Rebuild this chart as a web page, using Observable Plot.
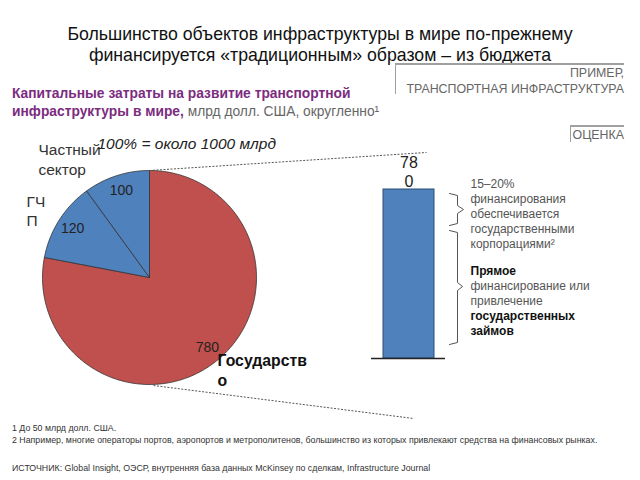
<!DOCTYPE html>
<html>
<head>
<meta charset="utf-8">
<script src="https://cdn.jsdelivr.net/npm/d3@7"></script>
<script src="https://cdn.jsdelivr.net/npm/@observablehq/plot@0.6"></script>
<style>
  html, body { margin: 0; padding: 0; background: #fff; }
  #page { position: relative; width: 640px; height: 480px; overflow: hidden; font-family: "Liberation Sans", Arial, sans-serif; }
  .abs { position: absolute; }
  #title { left: 0; top: 24px; width: 640px; text-align: center; font-size: 17.7px; line-height: 21px; color: #111; }
  #subtitle { left: 12px; top: 85px; font-size: 13.8px; line-height: 17.5px; font-weight: bold; color: #7B2C80; }
  #subtitle .u { font-weight: normal; color: #666; }
  #example { left: 395px; top: 63px; width: 229px; height: 31px; border-top: 2px solid #a0a0a0; border-left: 1.5px solid #a0a0a0; text-align: right; font-size: 12.4px; line-height: 16px; color: #666; box-sizing: border-box; }
  #estimate { left: 570px; top: 125px; width: 54px; height: 17px; border-top: 2px solid #a0a0a0; border-left: 1.5px solid #a0a0a0; text-align: right; font-size: 12.4px; line-height: 16px; color: #666; box-sizing: border-box; }
  #notes { left: 12px; top: 422px; font-size: 8.8px; line-height: 12px; color: #333; }
  #source { left: 12px; top: 462px; font-size: 8.8px; line-height: 12px; color: #333; }
  svg { overflow: visible; }
</style>
</head>
<body>
<div id="page">
  <div id="main" class="abs" style="left:0;top:0"></div>
  <div id="bar" class="abs" style="left:366px;top:140px"></div>
  <div id="title" class="abs">Большинство объектов инфраструктуры в мире по-прежнему<br>финансируется «традиционным» образом – из бюджета</div>
  <div id="example" class="abs">ПРИМЕР,<br>ТРАНСПОРТНАЯ ИНФРАСТРУКТУРА</div>
  <div id="subtitle" class="abs">Капитальные затраты на развитие транспортной<br>инфраструктуры в мире,<span class="u"> млрд долл. США, округленно¹</span></div>
  <div id="estimate" class="abs">ОЦЕНКА</div>
  <div id="notes" class="abs">1 До 50 млрд долл. США.<br>2 Например, многие операторы портов, аэропортов и метрополитенов, большинство из которых привлекают средства на финансовых рынках.</div>
  <div id="source" class="abs">ИСТОЧНИК: Global Insight, ОЭСР, внутренняя база данных McKinsey по сделкам, Infrastructure Journal</div>
</div>
<script>
// ---- data ----
const categories = ["Государство", "ГЧП", "Частный сектор"];
const values = [780, 120, 100];
const totalLabel = "100% = около 1000 млрд";
const barCategory = ["Государство"];
const barValue = [780];
const noteTop = ["15–20%", "финансирования", "обеспечивается", "государственными", "корпорациями²"];
const noteBottomBold1 = ["Прямое"];
const noteBottomRegular = ["финансирование или", "привлечение"];
const noteBottomBold2 = ["государственных", "займов"];

// ---- layout / style ----
const cx = 149, cy = 277, r = 107;
const red = "#C0504D", blue = "#4F81BD";
const FONT = "Liberation Sans";

const arcs = d3.pie().sort(null).startAngle(0)(values);
const slicePts = [];
arcs.forEach((a, i) => {
  const name = categories[i];
  slicePts.push({x: cx, y: cy, name});
  const steps = Math.max(2, Math.ceil((a.endAngle - a.startAngle) / (Math.PI / 180)));
  for (let k = 0; k <= steps; k++) {
    const ang = a.startAngle + (a.endAngle - a.startAngle) * k / steps;
    slicePts.push({x: cx + r * Math.sin(ang), y: cy - r * Math.cos(ang), name});
  }
  slicePts.push({x: cx, y: cy, name});
});
const sliceLabels = arcs.map((a, i) => {
  const m = (a.startAngle + a.endAngle) / 2;
  return {x: cx + 0.85 * r * Math.sin(m), y: cy - 0.85 * r * Math.cos(m), text: String(values[i])};
});

function brace(x0, x1, xt, y0, y1, ym) {
  return [
    {x: x0, y: y0}, {x: x1, y: y0 + 2}, {x: x1, y: ym - 4}, {x: xt, y: ym},
    {x: x1, y: ym + 4}, {x: x1, y: y1 - 2}, {x: x0, y: y1}
  ];
}

const lineY = (arr, y0, step) => arr.map((t, i) => ({x: 470, y: y0 + i * step, text: t}));

const main = Plot.plot({
  width: 640, height: 480, margin: 0,
  x: {domain: [0, 640], range: [0, 640], axis: null},
  y: {domain: [0, 480], range: [0, 480], axis: null},
  color: {domain: categories, range: [red, blue, blue]},
  marks: [
    Plot.line(slicePts, {x: "x", y: "y", z: "name", fill: "name", stroke: "#333", strokeWidth: 0.8, curve: "linear"}),
    Plot.text(sliceLabels, {x: "x", y: "y", text: "text", fontSize: 14, fill: "#222", fontFamily: FONT}),
    Plot.link([
      {x1: cx, y1: cy - r, x2: 426, y2: 152},
      {x1: cx + 4, y1: cy + r + 1, x2: 413, y2: 418}
    ], {x1: "x1", y1: "y1", x2: "x2", y2: "y2", stroke: "#555", strokeWidth: 1, strokeDasharray: "2,1.5"}),
    Plot.text([{x: 38, y: 150, t: "Частный"}, {x: 38, y: 170, t: "сектор"}], {x: "x", y: "y", text: "t", textAnchor: "start", fontSize: 15.5, fill: "#333", fontFamily: FONT}),
    Plot.text([{x: 26, y: 202, t: "ГЧ"}, {x: 26, y: 221, t: "П"}], {x: "x", y: "y", text: "t", textAnchor: "start", fontSize: 15.5, fill: "#333", fontFamily: FONT}),
    Plot.text([{x: 217, y: 360, t: "Государств"}, {x: 217, y: 380, t: "о"}], {x: "x", y: "y", text: "t", textAnchor: "start", fontSize: 15.8, fontWeight: "bold", fill: "#111", fontFamily: FONT}),
    Plot.text([{x: 97, y: 144, t: totalLabel}], {x: "x", y: "y", text: "t", textAnchor: "start", fontSize: 15.5, fontStyle: "italic", fill: "#222", fontFamily: FONT}),
    Plot.line(brace(449, 457, 463, 193, 225, 209), {x: "x", y: "y", stroke: "#555", strokeWidth: 1}),
    Plot.line(brace(449, 457, 462, 230, 344, 286), {x: "x", y: "y", stroke: "#555", strokeWidth: 1}),
    Plot.text(lineY(noteTop, 183.5, 15.1), {x: "x", y: "y", text: "text", textAnchor: "start", fontSize: 12, fill: "#555", fontFamily: FONT}),
    Plot.text(lineY(noteBottomBold1, 271, 15), {x: "x", y: "y", text: "text", textAnchor: "start", fontSize: 12, fontWeight: "bold", fill: "#111", fontFamily: FONT}),
    Plot.text(lineY(noteBottomRegular, 286, 14.7), {x: "x", y: "y", text: "text", textAnchor: "start", fontSize: 12, fill: "#555", fontFamily: FONT}),
    Plot.text(lineY(noteBottomBold2, 315.5, 14.7), {x: "x", y: "y", text: "text", textAnchor: "start", fontSize: 12, fontWeight: "bold", fill: "#111", fontFamily: FONT})
  ]
});
document.getElementById("main").appendChild(main);

const barData = barCategory.map((c, i) => ({name: c, value: barValue[i]}));
const bar = Plot.plot({
  width: 84, height: 222,
  marginTop: 49, marginBottom: 4, marginLeft: 5, marginRight: 5,
  x: {domain: barCategory, axis: null, padding: 0.18},
  y: {domain: [0, 780], axis: null},
  marks: [
    Plot.barY(barData, {x: "name", y: "value", fill: blue, stroke: "#2d4f78", strokeWidth: 1}),
    Plot.ruleY([0], {stroke: "#222", strokeWidth: 1.5}),
    Plot.text(barData, {x: "name", y: "value", text: d => String(d.value).replace(/^(\d\d)(\d)$/, "$1\n$2"), lineAnchor: "bottom", dy: -3, fontSize: 16, lineHeight: 1.15, fill: "#222", fontFamily: FONT})
  ]
});
document.getElementById("bar").appendChild(bar);
</script>
</body>
</html>
